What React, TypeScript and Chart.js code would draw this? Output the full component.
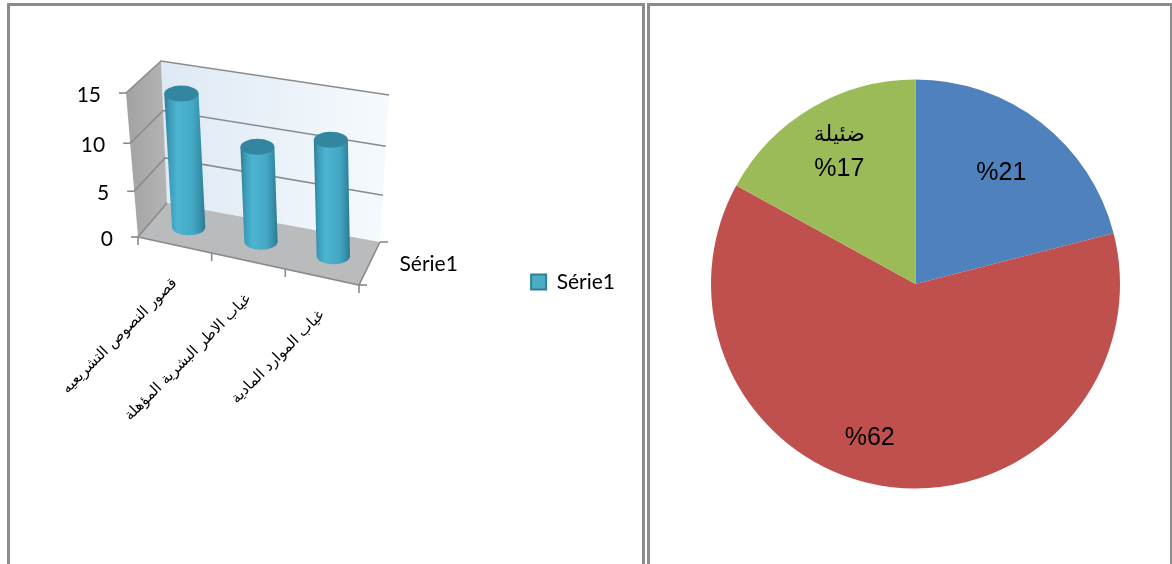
import React, { useEffect, useRef } from "react";
import { Chart, registerables } from "chart.js";

Chart.register(...registerables);

const barCategories = [
  "قصور النصوص التشريعيه",
  "غياب الاطر البشرية المؤهلة",
  "غياب الموارد المادية",
];
const barValues = [14, 10, 12];
const seriesName = "Série1";
const valueTicks = [0, 5, 10, 15];

const pieValues = [21, 62, 17];
const pieCategories = ["", "", "ضئيلة"];
const pieLabels = [["%21"], ["%62"], ["ضئيلة", "%17"]];
const pieColors = ["#4F81BD", "#C0504D", "#9BBB59"];

const LATIN = "Lato, sans-serif";
const ARABIC = '"DejaVu Sans", sans-serif';

type Pt = { x: number; y: number };
const box = {
  ftl: { x: 126, y: 93 },
  ftr: { x: 346, y: 135 },
  fbl: { x: 138, y: 237 },
  fbr: { x: 359, y: 285 },
  btl: { x: 161, y: 61 },
  btr: { x: 389, y: 95 },
  bbl: { x: 167, y: 203 },
  bbr: { x: 380, y: 242 },
};
const mix = (a: Pt, b: Pt, t: number): Pt => ({ x: a.x + (b.x - a.x) * t, y: a.y + (b.y - a.y) * t });
const warp = (v: number) => v * (0.93 + 0.07 * v);
const project = (u: number, v: number, d: number): Pt => {
  const w = warp(v);
  const front = mix(mix(box.fbl, box.fbr, u), mix(box.ftl, box.ftr, u), w);
  const back = mix(mix(box.bbl, box.bbr, u), mix(box.btl, box.btr, u), w);
  return mix(front, back, d);
};

const poly = (ctx: CanvasRenderingContext2D, pts: Pt[]) => {
  ctx.beginPath();
  pts.forEach((p, i) => (i ? ctx.lineTo(p.x, p.y) : ctx.moveTo(p.x, p.y)));
  ctx.closePath();
};
const line = (ctx: CanvasRenderingContext2D, pts: Pt[]) => {
  ctx.beginPath();
  pts.forEach((p, i) => (i ? ctx.lineTo(p.x, p.y) : ctx.moveTo(p.x, p.y)));
  ctx.stroke();
};

const EDGE = "#8a8a8a";

const cylinderPlugin = {
  id: "cylinders3d",
  beforeDatasetsDraw(chart: any) {
    const ctx: CanvasRenderingContext2D = chart.ctx;
    const { x, y } = chart.scales;
    const ca = chart.chartArea;
    ctx.save();

    // walls and floor
    const wall = ctx.createLinearGradient(box.btl.x, 0, box.btr.x, 0);
    wall.addColorStop(0, "#dde9f4");
    wall.addColorStop(1, "#f6fafd");
    ctx.fillStyle = wall;
    poly(ctx, [box.btl, box.btr, box.bbr, box.bbl]);
    ctx.fill();

    const side = ctx.createLinearGradient(box.ftl.x, 0, box.bbl.x, 0);
    side.addColorStop(0, "#a2a2a2");
    side.addColorStop(1, "#b4b4b4");
    ctx.fillStyle = side;
    poly(ctx, [box.ftl, box.btl, box.bbl, box.fbl]);
    ctx.fill();

    ctx.fillStyle = "#b9bbbd";
    poly(ctx, [box.fbl, box.bbl, box.bbr, box.fbr]);
    ctx.fill();

    // value grid and ticks
    ctx.strokeStyle = EDGE;
    ctx.lineWidth = 1.6;
    ctx.fillStyle = "#000";
    ctx.font = `21px ${LATIN}`;
    ctx.textAlign = "right";
    ctx.textBaseline = "middle";
    y.ticks.forEach((t: any) => {
      const v = (ca.bottom - y.getPixelForValue(t.value)) / ca.height;
      const a = project(0, v, 0);
      const b = project(0, v, 1);
      const c = project(1, v, 1);
      if (t.value > 0) line(ctx, [a, b, c]);
      line(ctx, [{ x: a.x - 7, y: a.y }, a]);
      ctx.fillText(String(t.label), a.x - 25, a.y + 2);
    });

    // floor edges and category ticks
    line(ctx, [box.bbl, box.fbl, box.fbr, box.bbr]);
    const n = chart.data.labels.length;
    for (let i = 0; i <= n; i++) {
      const p = project(i / n, 0, 0);
      line(ctx, [p, { x: p.x, y: p.y + 8 }]);
    }
    line(ctx, [box.fbr, { x: box.fbr.x + 8, y: box.fbr.y }]);
    line(ctx, [box.bbr, { x: box.bbr.x + 8, y: box.bbr.y }]);

    // depth-axis label
    ctx.textAlign = "left";
    ctx.fillStyle = "#000";
    const dp = project(1, 0, 0.5);
    ctx.fillText(seriesName, dp.x + 30, dp.y + 1);

    // category labels
    ctx.font = `15px ${ARABIC}`;
    ctx.textAlign = "right";
    chart.data.labels.forEach((label: string, i: number) => {
      const u = (x.getPixelForValue(i) - ca.left) / ca.width;
      const p = project(u, 0, 0);
      ctx.save();
      ctx.translate(p.x, p.y + 36);
      ctx.rotate(-Math.PI / 4);
      ctx.fillText(label, 0, 0);
      ctx.restore();
    });
    ctx.restore();
  },
  beforeDatasetDraw(chart: any, args: any) {
    const ctx: CanvasRenderingContext2D = chart.ctx;
    const ca = chart.chartArea;
    const meta = chart.getDatasetMeta(args.index);
    const RY = 8;
    meta.data.forEach((el: any) => {
      const u = (el.x - ca.left) / ca.width;
      const hw = el.width / 2 / ca.width;
      const v = (ca.bottom - el.y) / ca.height;
      const top = project(u, v, 0.5);
      const bot = project(u, 0, 0.5);
      const rxT = (project(u + hw, v, 0.5).x - project(u - hw, v, 0.5).x) / 2;
      const rxB = (project(u + hw, 0, 0.5).x - project(u - hw, 0, 0.5).x) / 2;
      const minX = Math.min(top.x - rxT, bot.x - rxB);
      const maxX = Math.max(top.x + rxT, bot.x + rxB);
      const g = ctx.createLinearGradient(minX, 0, maxX, 0);
      g.addColorStop(0, "#2b7a92");
      g.addColorStop(0.12, "#3a9bb7");
      g.addColorStop(0.32, "#4cb4d1");
      g.addColorStop(0.7, "#44a8c5");
      g.addColorStop(0.9, "#348ca6");
      g.addColorStop(1, "#2a768d");
      ctx.fillStyle = g;
      ctx.beginPath();
      ctx.moveTo(top.x - rxT, top.y);
      ctx.lineTo(top.x + rxT, top.y);
      ctx.lineTo(bot.x + rxB, bot.y);
      ctx.ellipse(bot.x, bot.y, rxB, RY, 0, 0, Math.PI);
      ctx.closePath();
      ctx.fill();
      ctx.fillStyle = "#32869f";
      ctx.beginPath();
      ctx.ellipse(top.x, top.y, rxT, RY, 0, 0, Math.PI * 2);
      ctx.fill();
    });
    return false;
  },
};

const pieLabelPlugin = {
  id: "pieLabels",
  afterDatasetsDraw(chart: any) {
    const ctx: CanvasRenderingContext2D = chart.ctx;
    const arcs = chart.getDatasetMeta(0).data;
    // label nudges relative to each slice centre, as fractions of the radius
    const nudge = [
      { r: 0.685, a: 37.8 },
      { r: 0.788, a: 196.5 },
      { r: 0.745, a: 330.0 },
    ];
    ctx.save();
    ctx.fillStyle = "#000";
    ctx.textAlign = "center";
    ctx.textBaseline = "middle";
    arcs.forEach((arc: any, i: number) => {
      const rad = ((nudge[i].a - 90) * Math.PI) / 180;
      const cx = arc.x + Math.cos(rad) * nudge[i].r * arc.outerRadius;
      const cy = arc.y + Math.sin(rad) * nudge[i].r * arc.outerRadius;
      const lines = pieLabels[i];
      lines.forEach((t, k) => {
        const isAr = /[\u0600-\u06FF]/.test(t);
        ctx.font = isAr ? `22px ${ARABIC}` : `25px "Liberation Sans", Arial, sans-serif`;
        ctx.fillText(t, cx, cy + (k - (lines.length - 1) / 2) * 34);
      });
    });
    ctx.restore();
  },
};

export default function App() {
  const barRef = useRef<HTMLCanvasElement>(null);
  const pieRef = useRef<HTMLCanvasElement>(null);

  useEffect(() => {
    const bar = new Chart(barRef.current!, {
      type: "bar",
      data: {
        labels: barCategories,
        datasets: [
          {
            label: seriesName,
            data: barValues,
            backgroundColor: "#4BACC6",
            borderColor: "#2f7f96",
            borderWidth: 2,
            barPercentage: 0.46,
            categoryPercentage: 1,
          },
        ],
      },
      options: {
        responsive: false,
        animation: false,
        scales: {
          x: { ticks: { display: false }, grid: { display: false }, border: { display: false } },
          y: {
            min: valueTicks[0],
            max: valueTicks[valueTicks.length - 1],
            ticks: { display: false, stepSize: valueTicks[1] - valueTicks[0] },
            grid: { display: false },
            border: { display: false },
          },
        },
        plugins: {
          title: { display: false },
          tooltip: { enabled: false },
          legend: {
            position: "right",
            labels: {
              boxWidth: 15,
              boxHeight: 15,
              padding: 10,
              color: "#000",
              font: { family: "Lato", size: 21 },
            },
          },
        },
      },
      plugins: [cylinderPlugin],
    } as any);

    const pie = new Chart(pieRef.current!, {
      type: "pie",
      data: {
        labels: pieCategories,
        datasets: [
          { data: pieValues, backgroundColor: pieColors, borderWidth: 0, hoverOffset: 0 },
        ],
      },
      options: {
        responsive: false,
        animation: false,
        layout: { padding: { left: 61, right: 50, top: 79.5, bottom: 75.5 } },
        plugins: { legend: { display: false }, tooltip: { enabled: false }, title: { display: false } },
      },
      plugins: [pieLabelPlugin],
    } as any);

    return () => {
      bar.destroy();
      pie.destroy();
    };
  }, []);

  const frame = (left: number, width: number): React.CSSProperties => ({
    position: "absolute",
    left,
    top: 3,
    width,
    height: 558,
    border: "3px solid #8c8c8c",
    boxSizing: "content-box",
  });

  return (
    <div
      style={{
        position: "absolute",
        left: 0,
        top: 0,
        width: 1172,
        height: 564,
        background: "#fff",
        overflow: "hidden",
      }}
    >
      <div style={frame(7, 632)} />
      <div style={frame(647, 520)} />
      <canvas
        ref={barRef}
        width={625}
        height={564}
        style={{ position: "absolute", left: 0, top: 0, width: 625, height: 564 }}
      />
      <canvas
        ref={pieRef}
        width={520}
        height={564}
        style={{ position: "absolute", left: 650, top: 0, width: 520, height: 564 }}
      />
    </div>
  );
}
